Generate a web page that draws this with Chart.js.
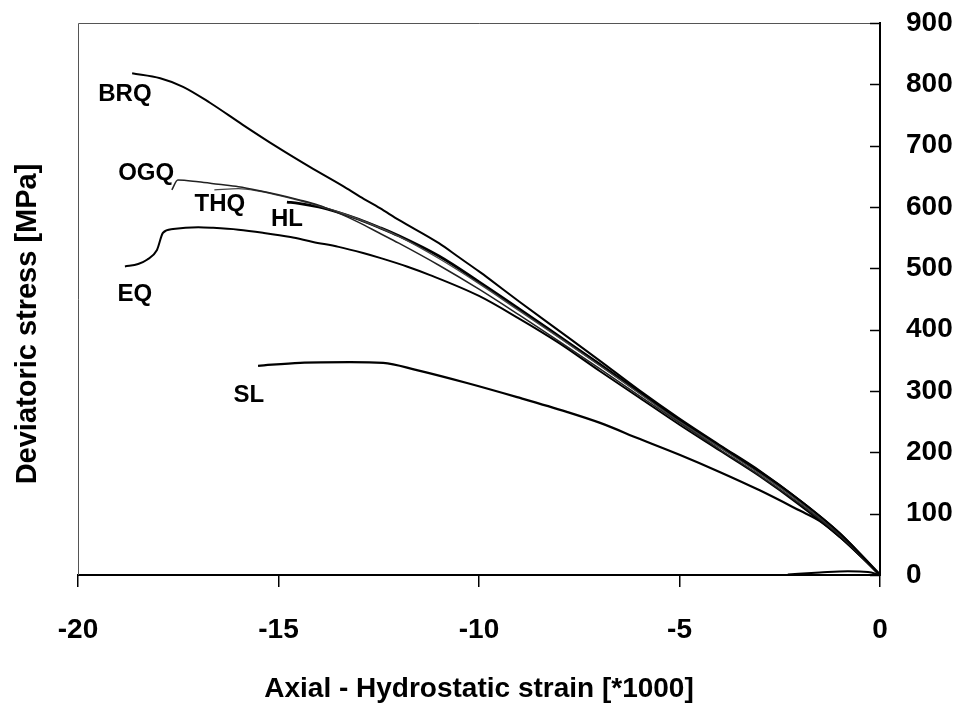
<!DOCTYPE html>
<html>
<head>
<meta charset="utf-8">
<script src="https://cdn.jsdelivr.net/npm/chart.js@4/dist/chart.umd.min.js"></script>
<style>
  body { margin: 0; background: #fff; }
  canvas { display: block; }
</style>
</head>
<body>
<canvas id="plot" width="959" height="706"></canvas>
<script>
// strain [*1000] and deviatoric stress [MPa] per rock type
const strainBRQ = [-18.65, -17.95, -17.38, -16.71, -15.89, -15.04, -14.21, -13.39, -12.97, -12.47, -12, -11, -10.5, -10, -9.73, -9, -8, -7, -6, -5, -4, -3, -2, -1, 0];
const stressBRQ = [818, 810, 796, 770, 734, 698, 665, 634, 617, 598, 579, 541, 518, 495, 482, 446, 398, 350, 301, 255, 212, 170, 122, 68, 0];

const strainOGQ = [-17.66, -17.51, -17, -16.5, -16, -15.5, -15, -14.5, -14, -13.5, -13, -12.5, -12, -11, -10, -9, -8, -7, -6, -5, -4, -3, -2, -1, 0];
const stressOGQ = [628, 644, 641, 637, 633, 627, 620, 612, 603, 590, 575, 558, 541, 505, 466, 424, 381, 337, 292, 248, 205, 162, 116, 64, 0];

const strainTHQ = [-16.6, -16, -15.5, -15, -14.5, -14, -13, -12, -11, -10, -9, -8, -7, -6, -5, -4, -3, -2, -1, 0];
const stressTHQ = [628, 630, 626, 619, 611, 602, 580, 552, 516, 475, 431, 387, 342, 296, 250, 208, 165, 119, 66, 0];

const strainHL = [-14.79, -14.5, -14, -13.5, -13, -12.5, -12, -11, -10, -9, -8, -7, -6, -5, -4, -3, -2, -1, 0];
const stressHL = [608, 606, 600, 591, 580, 567, 553, 520, 478, 434, 389, 344, 298, 252, 210, 168, 121, 67, 0];

const strainEQ = [-18.83, -18.5, -18.28, -18.03, -17.88, -17.63, -17, -16.63, -16, -15.39, -14.7, -14.14, -13.5, -12.89, -12.47, -11.8, -11.22, -10, -9, -8, -7, -6, -5, -4, -3, -2, -1, 0];
const stressEQ = [503, 507, 514, 530, 558, 564, 567, 566, 563, 558, 551, 543, 535, 525, 517, 503, 489, 455, 418, 378, 333, 289, 245, 203, 161, 114, 62, 0];

const strainSL = [-15.51, -14.46, -13.22, -12.39, -11.55, -10.3, -9.05, -7.81, -6.98, -6, -5, -4, -3, -2, -1.5, -1, -0.5, 0];
const stressSL = [341, 346, 347, 346, 334, 313, 290, 266, 248, 222, 196, 168, 138, 105, 88, 62, 32, 0];

// hydrostatic leg lying along the strain axis near the origin
const strainHyd = [-2.3, -1.5, -0.8, -0.3, 0];
const stressHyd = [1, 4, 6, 5, 0];

const seriesNames = ['BRQ', 'OGQ', 'THQ', 'HL', 'EQ', 'SL'];
const xTicks = [-20, -15, -10, -5, 0];
const yTicks = [0, 100, 200, 300, 400, 500, 600, 700, 800, 900];

// where each series name is written, in data units
const nameAt = {
  BRQ: [-18.83, 784], OGQ: [-18.30, 655], THQ: [-16.46, 605],
  HL: [-14.79, 580], EQ: [-18.58, 458], SL: [-15.74, 293]
};

const FONT = "'Liberation Sans', Arial, sans-serif";

function pairs(xs, ys) {
  return xs.map((x, i) => ({ x: x, y: ys[i] }));
}

function curve(label, xs, ys, color, width) {
  return {
    label: label,
    data: pairs(xs, ys),
    borderColor: color,
    borderWidth: width,
    pointRadius: 0,
    fill: false,
    cubicInterpolationMode: 'monotone'
  };
}

// gray frame on top/left, inward ticks on the stress axis, names and y title
const decorations = {
  id: 'decorations',
  afterDraw(chart) {
    const ctx = chart.ctx;
    const a = chart.chartArea;
    const xs = chart.scales.x;
    const ys = chart.scales.y;
    ctx.save();

    ctx.strokeStyle = '#555';
    ctx.lineWidth = 1;
    ctx.beginPath();
    ctx.moveTo(a.left + 0.5, a.bottom);
    ctx.lineTo(a.left + 0.5, a.top + 0.5);
    ctx.lineTo(a.right, a.top + 0.5);
    ctx.stroke();

    ctx.strokeStyle = '#000';
    ctx.lineWidth = 1.5;
    yTicks.forEach(v => {
      const py = Math.round(ys.getPixelForValue(v)) + 0.5;
      ctx.beginPath();
      ctx.moveTo(a.right - 10, py);
      ctx.lineTo(a.right, py);
      ctx.stroke();
    });

    ctx.fillStyle = '#000';
    ctx.font = 'bold 24px ' + FONT;
    ctx.textAlign = 'center';
    ctx.textBaseline = 'middle';
    seriesNames.forEach(n => {
      const p = nameAt[n];
      ctx.fillText(n, xs.getPixelForValue(p[0]), ys.getPixelForValue(p[1]));
    });

    ctx.translate(28, 324);
    ctx.rotate(-Math.PI / 2);
    ctx.font = 'bold 29px ' + FONT;
    ctx.fillText('Deviatoric stress [MPa]', 0, 0);
    ctx.restore();
  }
};

new Chart(document.getElementById('plot').getContext('2d'), {
  type: 'line',
  data: {
    datasets: [
      curve('BRQ', strainBRQ, stressBRQ, '#000', 2),
      curve('OGQ', strainOGQ, stressOGQ, '#222', 1.5),
      curve('THQ', strainTHQ, stressTHQ, '#444', 1.4),
      curve('HL', strainHL, stressHL, '#000', 2.8),
      curve('EQ', strainEQ, stressEQ, '#000', 2),
      curve('SL', strainSL, stressSL, '#000', 2.2),
      curve('', strainHyd, stressHyd, '#000', 2)
    ]
  },
  options: {
    responsive: false,
    animation: false,
    layout: { padding: { top: 23, left: 78 } },
    plugins: {
      legend: { display: false },
      tooltip: { enabled: false }
    },
    scales: {
      x: {
        type: 'linear',
        min: -20,
        max: 0,
        afterBuildTicks: s => { s.ticks = xTicks.map(v => ({ value: v })); },
        afterFit: s => { s.height = 131; s.paddingLeft = 0; s.paddingRight = 0; },
        ticks: { color: '#000', font: { family: FONT, size: 28, weight: 'bold' }, padding: 26, maxRotation: 0 },
        grid: { display: true, drawOnChartArea: false, drawTicks: true, tickLength: 12, color: '#000', lineWidth: 1.5 },
        border: { display: true, color: '#000', width: 2 },
        title: {
          display: true,
          text: 'Axial - Hydrostatic strain [*1000]',
          color: '#000',
          font: { family: FONT, size: 28, weight: 'bold' },
          padding: { top: 0, bottom: 0 }
        }
      },
      y: {
        type: 'linear',
        position: 'right',
        min: 0,
        max: 900,
        afterBuildTicks: s => { s.ticks = yTicks.map(v => ({ value: v })); },
        afterFit: s => { s.width = 79; s.paddingTop = 0; s.paddingBottom = 0; },
        ticks: { color: '#000', font: { family: FONT, size: 28, weight: 'bold' }, padding: 26 },
        grid: { display: true, drawOnChartArea: false, drawTicks: false },
        border: { display: true, color: '#000', width: 2 }
      }
    }
  },
  plugins: [decorations]
});
</script>
</body>
</html>
